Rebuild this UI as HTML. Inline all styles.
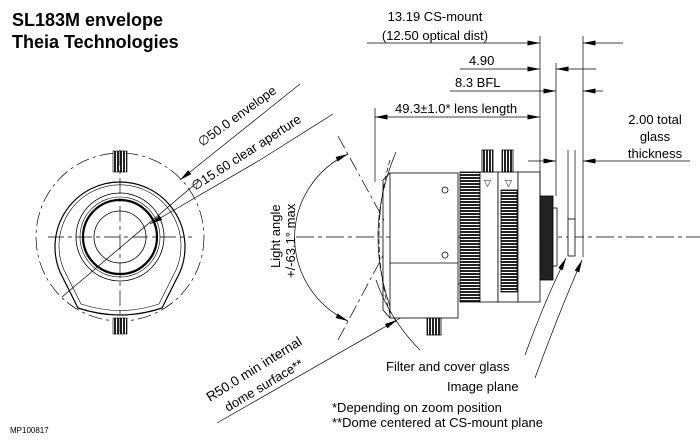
<!DOCTYPE html>
<html><head><style>
body{margin:0;background:#fff}
svg{display:block}
text{font-family:"Liberation Sans",sans-serif;fill:#000}
</style></head><body>
<svg width="700" height="445" viewBox="0 0 700 445" xmlns="http://www.w3.org/2000/svg">
<defs>
<marker id="a" viewBox="0 0 10 4" refX="10" refY="2" markerWidth="14" markerHeight="5" markerUnits="userSpaceOnUse" orient="auto"><path d="M0,0 L10,2 L0,4z" fill="#000"/></marker>
<marker id="b" viewBox="0 0 10 4" refX="0" refY="2" markerWidth="14" markerHeight="5" markerUnits="userSpaceOnUse" orient="auto"><path d="M10,0 L0,2 L10,4z" fill="#000"/></marker>
<pattern id="k" width="4" height="3" patternUnits="userSpaceOnUse"><rect width="4" height="3" fill="#fff"/><rect width="4" height="2" fill="#222"/></pattern>
<pattern id="kv" width="3" height="4" patternUnits="userSpaceOnUse"><rect width="3" height="4" fill="#fff"/><rect width="2" height="4" fill="#222"/></pattern>
</defs>
<text x="12" y="26" font-size="18" font-weight="bold">SL183M envelope</text>
<text x="12" y="48" font-size="18" font-weight="bold">Theia Technologies</text>
<text x="10" y="433" font-size="8">MP100817</text>

<!-- front view -->
<g fill="none" stroke="#000" stroke-width="0.8">
<circle cx="120" cy="237" r="84" stroke-dasharray="14,4,3,4" stroke-width="0.7"/>
<path d="M60,272 A65,65 0 1 1 180,272 L162,308 Q120,322 78,308 Z" stroke-width="1.2"/>
<path d="M64,270 A61,61 0 1 1 176,270 L159,304 Q120,317 81,304 Z" stroke-width="0.6"/>
<circle cx="120" cy="237" r="44"/>
<circle cx="120" cy="237" r="40" stroke-width="0.6"/>
<circle cx="120" cy="237" r="37" stroke-width="2.2"/>
<circle cx="120" cy="237" r="26"/>
<rect x="113" y="151" width="14" height="21" fill="url(#kv)" stroke-width="0.6"/>
<rect x="113" y="318" width="14" height="16" fill="url(#kv)" stroke-width="0.6"/>
<path d="M48,237H192M120,150V332" stroke-dasharray="16,4,4,4" stroke-width="0.7"/>
<path d="M62,297 L200,180" stroke-width="0.7"/>
<path d="M300,84 L180,180" marker-end="url(#a)" stroke-width="0.7"/>
<path d="M333,114 L260,160 L150,224" marker-end="url(#a)" stroke-width="0.7"/>
</g>
<text transform="translate(202,147) rotate(-36)" font-size="13">∅50.0 envelope</text>
<text transform="translate(195,191) rotate(-33)" font-size="13">∅15.60 clear aperture</text>

<!-- light angle -->
<g fill="none" stroke="#000" stroke-width="0.7">
<path d="M348,154 A92,92 0 0 0 348,321" marker-start="url(#b)" marker-end="url(#a)"/>
<path d="M338,136 L385,222" stroke-dasharray="14,4,3,4"/>
<path d="M338,340 L385,252" stroke-dasharray="14,4,3,4"/>
<path d="M296,237 H700" stroke-dasharray="18,4,4,4"/>
<path d="M396,152 Q360,237 396,322"/>
<path d="M390,160 Q368,237 390,314" stroke-dasharray="5,3"/>
<path d="M397,320 L540,237" />
<path d="M217,423 L397,320" marker-end="url(#a)"/>
</g>
<text transform="translate(280,268) rotate(-90)" font-size="13">Light angle</text>
<text transform="translate(295,278) rotate(-90)" font-size="13">+/-63.1° max</text>
<text transform="translate(210,402) rotate(-32)" font-size="13.5">R50.0 min internal</text>
<text transform="translate(228,412) rotate(-31)" font-size="13">dome surface**</text>

<!-- lens side -->
<g stroke="#000" stroke-width="0.8">
<rect x="390" y="173" width="68" height="145" fill="#fff"/>
<path d="M383,180 L390,173 M383,310 L390,318 M383,180 V310 M390,263 H458" fill="none"/>
<circle cx="445" cy="190" r="3" fill="none"/>
<circle cx="445" cy="255" r="3" fill="none"/>
<rect x="460" y="172" width="20" height="130" fill="url(#k)"/>
<rect x="480" y="172" width="18" height="130" fill="#fff"/>
<rect x="498" y="172" width="20" height="130" fill="#fff"/>
<rect x="501" y="190" width="16" height="102" fill="url(#k)"/>
<rect x="518" y="172" width="22" height="130" fill="#fff"/>
<rect x="482" y="150" width="11" height="22" fill="url(#kv)"/>
<rect x="502" y="150" width="11" height="22" fill="url(#kv)"/>
<rect x="427" y="318" width="14" height="17" fill="url(#kv)"/>
<rect x="540" y="196" width="13" height="84" fill="#222"/>
<rect x="553" y="208" width="4" height="58" fill="#fff"/>
<rect x="568" y="219" width="7" height="37" fill="#fff"/>
</g>
<text x="484" y="186" font-size="9">▽</text>
<text x="505" y="186" font-size="9">▽</text>

<!-- dimensions -->
<g fill="none" stroke="#000" stroke-width="0.7">
<path d="M540,36V237 M583,36V257 M556,63V196 M568,150V219 M575,150V219 M375,108V182"/>
<path d="M367,43H540" marker-end="url(#a)"/>
<path d="M623,43H583" marker-end="url(#a)"/>
<path d="M460,69H540" marker-end="url(#a)"/>
<path d="M596,69H556" marker-end="url(#a)"/>
<path d="M450,91H540"/>
<path d="M540,91H556" marker-end="url(#a)"/>
<path d="M603,91H583" marker-end="url(#a)"/>
<path d="M375,117H540" marker-start="url(#b)" marker-end="url(#a)"/>
<path d="M528,161H556" marker-end="url(#a)"/>
<path d="M690,161H583" marker-end="url(#a)"/>
<path d="M525,355 Q545,300 566,258" marker-end="url(#a)"/>
<path d="M535,378 Q560,310 582,260" marker-end="url(#a)"/>
<path d="M376,280 Q390,320 420,350"/>
</g>
<text x="435" y="21" font-size="13" text-anchor="middle">13.19 CS-mount</text>
<text x="435" y="40" font-size="13" text-anchor="middle">(12.50 optical dist)</text>
<text x="469" y="65" font-size="13">4.90</text>
<text x="455" y="87" font-size="13">8.3 BFL</text>
<text x="395" y="113" font-size="13">49.3±1.0* lens length</text>
<text x="655" y="124" font-size="13" text-anchor="middle">2.00 total</text>
<text x="655" y="141" font-size="13" text-anchor="middle">glass</text>
<text x="655" y="158" font-size="13" text-anchor="middle">thickness</text>
<text x="386" y="371" font-size="13">Filter and cover glass</text>
<text x="447" y="391" font-size="13">Image plane</text>
<text x="332" y="412" font-size="13">*Depending on zoom position</text>
<text x="332" y="427" font-size="13">**Dome centered at CS-mount plane</text>
</svg>
</body></html>
